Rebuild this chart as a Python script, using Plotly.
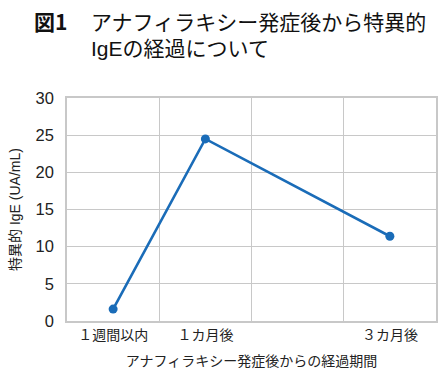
import plotly.graph_objects as go

categories = ["１週間以内", "１カ月後", "　", "３カ月後"]
x_points = ["１週間以内", "１カ月後", "３カ月後"]
ige_values = [1.6, 24.5, 11.4]
y_ticks = [0, 5, 10, 15, 20, 25, 30]

title_label = "図1"
title_line1 = "アナフィラキシー発症後から特異的"
title_line2 = "IgEの経過について"
x_title = "アナフィラキシー発症後からの経過期間"
y_title = "特異的 IgE (UA/mL)"

FONT = "Noto Sans CJK JP"
MIXED = "Liberation Sans, Noto Sans CJK JP"
LINE_COLOR = "#1a6cb8"
GRID = "#c8c8c8"

fig = go.Figure()
fig.add_trace(go.Scatter(
    x=x_points, y=ige_values, mode="lines+markers",
    line=dict(color=LINE_COLOR, width=2.6),
    marker=dict(color=LINE_COLOR, size=9),
    showlegend=False, hoverinfo="skip",
))

W, H = 447, 380
L, R, T, B = 67, 11, 98, 59
pw = W - L - R
ph = H - T - B

def px_to_paper(x):
    return (x - L) / pw

def py_to_paper(y):
    return (H - B - y) / ph

fig.update_layout(
    width=W, height=H,
    margin=dict(l=L, r=R, t=T, b=B, autoexpand=False),
    paper_bgcolor="white", plot_bgcolor="white",
    font=dict(family=FONT, color="#222222"),
    xaxis=dict(
        type="category", categoryorder="array", categoryarray=categories,
        tickvals=categories, ticktext=["１週間以内", "１カ月後", "", "３カ月後"],
        range=[-0.5, 3.5], tickson="boundaries", automargin=False,
        showgrid=True, gridcolor=GRID, gridwidth=1.2,
        showline=True, linecolor=GRID, linewidth=1.5, mirror=True,
        ticks="", tickfont=dict(size=14, family=FONT, color="#222"),
        title=dict(text=x_title, font=dict(size=14, family=FONT, color="#222"), standoff=14),
        fixedrange=True, zeroline=False,
    ),
    yaxis=dict(
        range=[0, 30], tickvals=y_ticks, automargin=False,
        showgrid=True, gridcolor=GRID, gridwidth=1.2,
        showline=True, linecolor=GRID, linewidth=1.5, mirror=True,
        ticks="", ticklabelstandoff=8,
        tickfont=dict(size=16.5, family="Liberation Sans, Arial", color="#222"),
        title=dict(text=y_title, font=dict(size=14, family=MIXED, color="#222"), standoff=12),
        fixedrange=True, zeroline=False,
    ),
    annotations=[
        dict(text="<b>" + title_label + "</b>", x=px_to_paper(32), y=py_to_paper(21),
             xref="paper", yref="paper",
             xanchor="left", yanchor="middle", showarrow=False,
             font=dict(size=21, family=FONT, color="#111")),
        dict(text=title_line1, x=px_to_paper(89), y=py_to_paper(21),
             xref="paper", yref="paper",
             xanchor="left", yanchor="middle", showarrow=False,
             font=dict(size=21, family=FONT, color="#111")),
        dict(text=title_line2, x=px_to_paper(89), y=py_to_paper(48),
             xref="paper", yref="paper",
             xanchor="left", yanchor="middle", showarrow=False,
             font=dict(size=21, family=MIXED, color="#111")),
    ],
)

fig.write_html("out.html", config={"displayModeBar": False},
               post_script="document.body.style.margin='0';")
